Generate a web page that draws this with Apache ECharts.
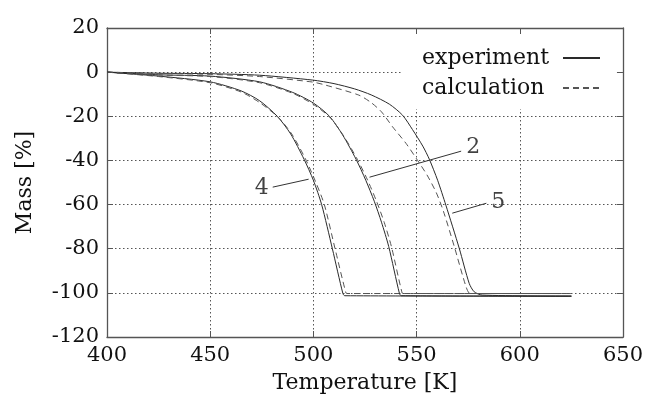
<!DOCTYPE html>
<html>
<head>
<meta charset="utf-8">
<script src="https://cdn.jsdelivr.net/npm/echarts@6/dist/echarts.min.js"></script>
<style>
  html, body { margin: 0; background: #fff; }
  #chart { width: 646px; height: 401px; }
</style>
</head>
<body>
<div id="chart"></div>
<script>
  // mass curves: [temperature K, mass %]
  const exp4 = [[400, 0], [425, -1.8], [450, -4.4], [465, -8.5], [474, -13], [482.5, -20], [489, -28], [495.5, -39.5], [500, -49], [504, -60], [509.2, -80], [514.3, -100.3], [515.2, -101.3], [625, -101.5]];
  const calc4 = [[400, 0], [425, -2], [450, -4.8], [465, -9], [474, -13.8], [483, -20.5], [489.5, -28], [496, -39], [501, -49.5], [505.3, -60], [510.5, -80], [515.8, -100.1], [516.6, -100.3], [625, -100.3]];
  const exp2 = [[400, 0], [425, -1.2], [450, -1.8], [474, -4.4], [490, -9.2], [500, -14], [507.8, -20], [514.2, -28.5], [520.7, -39.5], [525.4, -49], [529.5, -58.5], [533, -68], [536.5, -79], [541.7, -100.3], [542.6, -101.3], [625, -101.5]];
  const calc2 = [[400, 0], [425, -1.3], [450, -2], [474, -4.8], [490, -9.6], [500, -14.6], [508, -20.5], [514.6, -28.8], [521.3, -39.5], [526.3, -49], [530.6, -58.5], [534.3, -68], [537.8, -79], [543, -100.1], [543.8, -100.3], [625, -100.3]];
  const exp5 = [[400, 0], [425, -0.5], [450, -0.7], [474, -1.4], [499.7, -3.6], [510, -5.2], [520, -7.6], [528, -10.3], [536.8, -14.5], [543.2, -19.5], [548, -26], [553, -33.5], [556.2, -39.5], [560.2, -49], [564.2, -60.3], [570.7, -79.9], [575.5, -95.7], [577.9, -99.5], [581.8, -101], [625, -101.5]];
  const calc5 = [[400, 0], [425, -0.6], [450, -1], [474, -2], [499.7, -4.5], [506, -5.9], [522, -10.4], [528, -13.8], [533, -18], [538.4, -24.8], [544.9, -32.3], [550.5, -40], [555, -46.5], [559.5, -54.5], [563, -63], [568.3, -79.1], [574, -97.3], [576, -100.3], [625, -100.3]];

  // curve labels and their pointer lines, in data units
  const labelNames = ["4", "2", "5"];
  const labelAt = [[475, -52.6], [577.5, -34], [589.6, -59]];
  const pointerFrom = [[480.3, -52.1], [571.6, -35.8], [583.8, -59.4]];
  const pointerTo = [[497.7, -48.5], [527.2, -47.6], [567.3, -63.9]];

  const xMin = 400, xMax = 650, xStep = 50;
  const yMin = -120, yMax = 20, yStep = 20;

  const font = "DejaVu Serif";
  const ink = "#111";
  const chart = echarts.init(document.getElementById("chart"), null, { renderer: "canvas" });

  function curve(name, data, dashed) {
    const color = dashed ? "#555" : "#2a2a2a";
    return {
      name, type: "line", data, symbol: "none", showSymbol: false,
      smooth: 0.25, z: 3,
      itemStyle: { color },
      lineStyle: { color, width: 1, type: dashed ? [6, 4] : "solid" }
    };
  }

  const frameAxis = {
    axisLine: { show: true, onZero: false, lineStyle: { color: "#555", width: 1.3 } },
    axisTick: { show: true, inside: true, length: 6, lineStyle: { color: "#555", width: 1 } }
  };

  chart.setOption({
    animation: false,
    backgroundColor: "#fff",
    textStyle: { fontFamily: font, color: ink },
    grid: { left: 107, right: 22, top: 28, bottom: 64 },
    legend: {
      data: ["experiment", "calculation"],
      orient: "vertical", align: "right",
      right: 23, top: 30,
      padding: [17, 22, 10, 20],
      backgroundColor: "#fff",
      itemWidth: 37, itemHeight: 10, itemGap: 8, z: 1,
      itemStyle: { opacity: 0 },
      formatter: (name) => `{t|${name}}`,
      textStyle: {
        fontFamily: font, fontSize: 22, color: ink, lineHeight: 22,
        rich: { t: { fontFamily: font, fontSize: 22, color: ink, width: 136, align: "left" } }
      }
    },
    xAxis: [{
      type: "value", min: xMin, max: xMax, interval: xStep,
      name: "Temperature [K]", nameLocation: "middle", nameGap: 35,
      nameTextStyle: { fontFamily: font, fontSize: 22, color: ink },
      axisLabel: { fontFamily: font, fontSize: 21, color: ink, margin: 8 },
      splitLine: { show: true, lineStyle: { color: "#555", width: 1, type: [1.5, 2.5] } },
      ...frameAxis
    }, {
      type: "value", position: "top", min: xMin, max: xMax, interval: xStep, z: 5,
      axisLabel: { show: false }, splitLine: { show: false }, ...frameAxis
    }],
    yAxis: [{
      type: "value", min: yMin, max: yMax, interval: yStep,
      name: "Mass [%]", nameLocation: "middle", nameGap: 71,
      nameTextStyle: { fontFamily: font, fontSize: 22, color: ink },
      axisLabel: { fontFamily: font, fontSize: 21, color: ink, margin: 8 },
      splitLine: { show: true, lineStyle: { color: "#555", width: 1, type: [1.5, 2.5] } },
      ...frameAxis
    }, {
      type: "value", position: "right", min: yMin, max: yMax, interval: yStep, z: 5,
      axisLabel: { show: false }, splitLine: { show: false }, ...frameAxis
    }],
    series: [
      curve("experiment", exp4, false),
      curve("calculation", calc4, true),
      curve("experiment", exp2, false),
      curve("calculation", calc2, true),
      curve("experiment", exp5, false),
      curve("calculation", calc5, true),
      {
        name: "labels", type: "scatter", data: labelAt, symbolSize: 0, z: 4,
        label: {
          show: true, position: "inside", fontFamily: font, fontSize: 22, color: ink,
          formatter: (p) => labelNames[p.dataIndex]
        },
        markLine: {
          silent: true, symbol: "none", animation: false,
          label: { show: false },
          lineStyle: { color: "#333", width: 1, type: "solid" },
          data: pointerFrom.map((from, i) => [{ coord: from }, { coord: pointerTo[i] }])
        }
      }
    ]
  });
</script>
</body>
</html>
